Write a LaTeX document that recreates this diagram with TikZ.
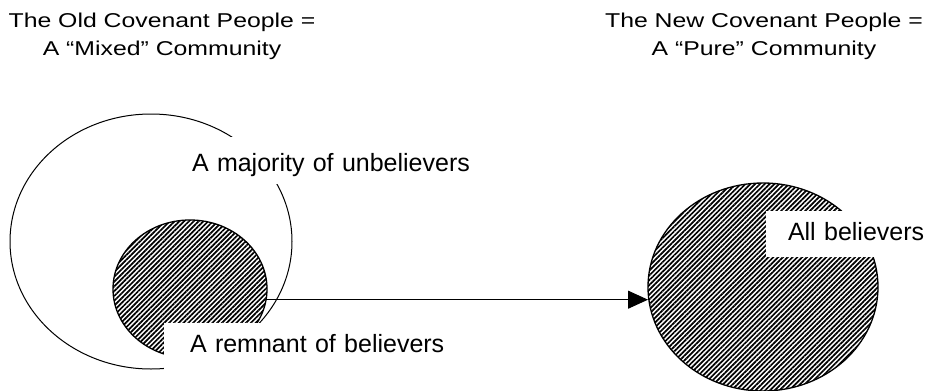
\documentclass[tikz,border=0pt]{standalone}
\usepackage{fontspec}
\setmainfont{Liberation Sans}
\newfontfamily\titlefont[FakeStretch=1.24]{Liberation Sans}
\usetikzlibrary{arrows.meta,patterns.meta,shapes.geometric}
\begin{document}
\begin{tikzpicture}[x=1pt,y=-1pt,
  outline/.style={draw=black, line width=1pt},
  hatch/.style={pattern={Lines[angle=45,distance=3.4pt,line width=1.7pt]}},
  blob/.style={ellipse, outline, inner sep=0pt, outer sep=0pt},
  lbl/.style={fill=white, font=\fontsize{25}{30}\selectfont, anchor=west, align=left, inner ysep=0pt, outer sep=0pt},
  ttl/.style={font=\titlefont\fontsize{20}{27.3}\selectfont, align=center, anchor=base},
  arr/.style={line width=1pt, -{Triangle[length=20pt,width=18pt]}}]
\fill[white] (0,0) rectangle (927,391);
\useasboundingbox (0,0) rectangle (927,391);
\node[ttl] (t1) at (162,55) {The Old Covenant People =\\A “Mixed” Community};
\node[ttl] (t2) at (764,55) {The New Covenant People =\\A “Pure” Community};
\node[blob, minimum width=282pt, minimum height=255pt] (old) at (151,241.5) {};
\node[blob, hatch, line width=1.3pt, minimum width=154pt, minimum height=138pt] (rem) at (190,289) {};
\node[blob, hatch, line width=1.3pt, minimum width=230pt, minimum height=208pt] (new) at (763,287) {};
\draw[arr] (rem.-8.2) -- (rem.-8.2 -| new.west);
\node[lbl, inner xsep=12pt, text width=290pt, text height=24pt, text depth=3pt, minimum height=47pt] (maj) at (180,160.5) {A majority of unbelievers};
\node[lbl, inner xsep=26pt, text width=260pt, text height=18pt, text depth=6.6pt, minimum height=48pt] (remlbl) at (164,347) {A remnant of believers};
\node[lbl, inner xsep=22pt, text width=140pt, text height=18pt, text depth=4.6pt, minimum height=46pt] (alllbl) at (766,234) {All believers};
\end{tikzpicture}
\end{document}
